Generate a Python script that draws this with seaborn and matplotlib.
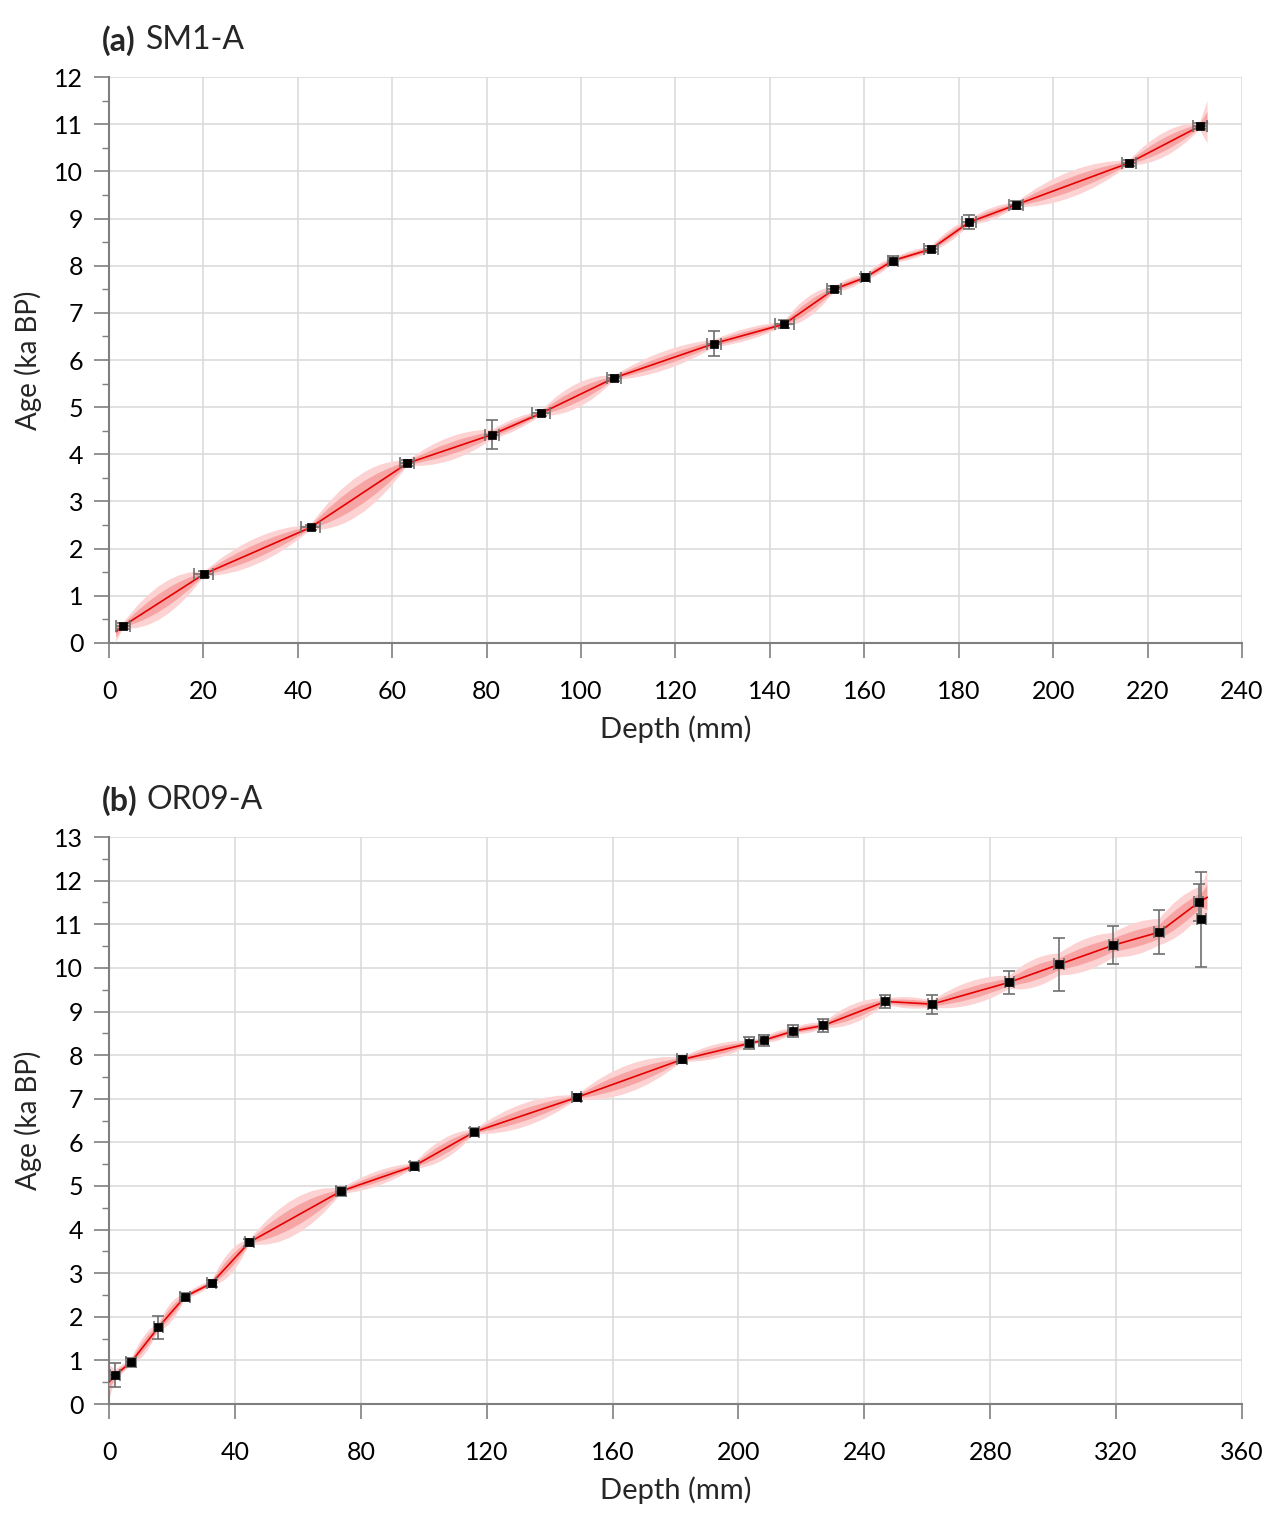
import numpy as np
import matplotlib
matplotlib.use("Agg")
import matplotlib.pyplot as plt
import seaborn as sns
from matplotlib.path import Path
from matplotlib.patches import PathPatch
from matplotlib.ticker import MultipleLocator

# (a) SM1-A dated samples
sm1_depth = [3.0, 20.1, 42.7, 63.2, 81.2, 91.5, 107.0, 128.2, 143.0, 153.6, 160.2, 166.1,
             174.1, 182.2, 192.1, 216.1, 231.1]
sm1_age = [0.36, 1.46, 2.45, 3.81, 4.42, 4.87, 5.62, 6.35, 6.76, 7.50, 7.75, 8.11,
           8.35, 8.92, 9.29, 10.18, 10.96]
sm1_age_err = [0.06, 0.06, 0.06, 0.06, 0.30, 0.06, 0.06, 0.27, 0.08, 0.06, 0.08, 0.10,
               0.06, 0.15, 0.08, 0.06, 0.06]
sm1_depth_err = [1.5, 2.0, 2.0, 1.5, 1.5, 2.0, 1.5, 1.5, 2.0, 1.5, 1.0, 1.0,
                 1.5, 1.5, 1.5, 1.5, 1.5]
# age model ends (depth, age)
sm1_start = (1.5, 0.24)
sm1_end = (232.7, 11.04)
# age model half widths (ka): at the ends, at each sample, between samples
sm1_band95_ends = (0.22, 0.45)
sm1_band68_ends = (0.12, 0.22)
sm1_band95_pt = [0.06, 0.05, 0.05, 0.05, 0.10, 0.05, 0.05, 0.08, 0.05, 0.05, 0.05, 0.05,
                 0.05, 0.06, 0.05, 0.05, 0.07]
sm1_band68_pt = [0.03, 0.03, 0.03, 0.03, 0.06, 0.03, 0.03, 0.05, 0.03, 0.03, 0.03, 0.03,
                 0.03, 0.04, 0.03, 0.03, 0.04]
sm1_band95_mid = [0.36, 0.28, 0.42, 0.25, 0.13, 0.26, 0.20, 0.13, 0.22, 0.11, 0.11, 0.09,
                  0.13, 0.13, 0.28, 0.26]
sm1_band68_mid = [0.19, 0.15, 0.23, 0.13, 0.07, 0.14, 0.10, 0.07, 0.12, 0.06, 0.06, 0.05,
                  0.07, 0.07, 0.15, 0.14]

# (b) OR09-A dated samples
or9_depth = [1.9, 7.0, 15.7, 24.1, 32.6, 44.6, 73.7, 97.0, 116.1, 148.6, 182.1, 203.5,
             208.0, 217.4, 227.0, 246.7, 261.6, 286.1, 301.9, 319.1, 333.7, 346.2, 347.1]
or9_age = [0.66, 0.96, 1.76, 2.46, 2.77, 3.71, 4.88, 5.46, 6.24, 7.03, 7.90, 8.27,
           8.34, 8.55, 8.68, 9.23, 9.17, 9.67, 10.08, 10.52, 10.82, 11.50, 11.11]
or9_age_err = [0.27, 0.10, 0.26, 0.08, 0.08, 0.08, 0.10, 0.10, 0.08, 0.08, 0.08, 0.14,
               0.12, 0.14, 0.15, 0.16, 0.22, 0.26, 0.60, 0.44, 0.51, 0.42, 1.10]
or9_depth_err = [1.5, 1.5, 1.5, 1.5, 1.5, 1.5, 1.5, 1.5, 1.5, 1.5, 1.5, 1.5,
                 1.5, 1.5, 1.5, 1.5, 1.5, 1.5, 1.5, 1.5, 1.5, 1.5, 1.5]
or9_start = (0.1, 0.51)
or9_end = (349.0, 11.62)
or9_band95_ends = (0.40, 0.65)
or9_band68_ends = (0.20, 0.30)
or9_band95_pt = [0.12, 0.06, 0.08, 0.05, 0.05, 0.05, 0.06, 0.06, 0.05, 0.05, 0.05, 0.06,
                 0.06, 0.06, 0.06, 0.07, 0.08, 0.15, 0.25, 0.28, 0.30, 0.35, 0.35]
or9_band68_pt = [0.07, 0.03, 0.05, 0.03, 0.03, 0.03, 0.03, 0.03, 0.03, 0.03, 0.03, 0.03,
                 0.03, 0.03, 0.03, 0.04, 0.05, 0.08, 0.13, 0.15, 0.16, 0.18, 0.18]
or9_band95_mid = [0.10, 0.22, 0.22, 0.09, 0.27, 0.42, 0.17, 0.24, 0.27, 0.32, 0.16, 0.06,
                  0.11, 0.11, 0.22, 0.13, 0.27, 0.32, 0.37, 0.37, 0.42, 0.37]
or9_band68_mid = [0.06, 0.12, 0.12, 0.05, 0.14, 0.23, 0.09, 0.13, 0.14, 0.17, 0.09, 0.03,
                  0.06, 0.06, 0.12, 0.07, 0.14, 0.17, 0.19, 0.19, 0.22, 0.19]

BAND95 = "#fcd2d2"
BAND68 = "#f7a4a4"
LINE = "#e60000"
GRID = "#d9d9d9"
AXIS = "#7f7f7f"


def band_patch(depth, age, start, end, ends, pt, mid, color, z):
    # smooth lens-shaped envelope: passes through sample half widths,
    # bulges to the read half width between samples
    nodes_x = [start[0]] + list(depth) + [end[0]]
    nodes_y = [start[1]] + list(age) + [end[1]]
    nodes_w = [ends[0]] + list(pt) + [ends[1]]
    mids = [None] + list(mid) + [None]
    upper, lower = [], []
    for i in range(len(nodes_x) - 1):
        x0, x1 = nodes_x[i], nodes_x[i + 1]
        y0, y1 = nodes_y[i], nodes_y[i + 1]
        w0, w1 = nodes_w[i], nodes_w[i + 1]
        wm = mids[i] if mids[i] is not None else (w0 + w1) / 2
        cx, cy = (x0 + x1) / 2, (y0 + y1) / 2
        cw = 2 * wm - (w0 + w1) / 2
        if i == 0:
            upper.append((x0, y0 + w0))
            lower.append((x0, y0 - w0))
        upper += [(cx, cy + cw), (x1, y1 + w1)]
        lower += [(cx, cy - cw), (x1, y1 - w1)]
    verts = upper + lower[::-1] + [upper[0]]
    n_up = len(upper)
    codes = [Path.MOVETO] + [Path.CURVE3] * (n_up - 1) + [Path.LINETO] \
        + [Path.CURVE3] * (len(lower) - 1) + [Path.CLOSEPOLY]
    return PathPatch(Path(verts, codes), facecolor=color, edgecolor="none", zorder=z)


def draw_panel(ax, depth, age, age_err, depth_err, start, end,
               b95_ends, b95_pt, b95_mid, b68_ends, b68_pt, b68_mid,
               xmax, xmajor, ymax, title_bold, title, title_gap):
    d, a = list(depth), list(age)
    p95, p68 = list(b95_pt), list(b68_pt)
    # the last two OR09-A samples overlap: the model runs through the upper one
    if len(d) == 23:
        d, a, p95, p68 = d[:-1], a[:-1], p95[:-1], p68[:-1]
    ax.add_patch(band_patch(d, a, start, end, b95_ends, p95, b95_mid, BAND95, 2))
    ax.add_patch(band_patch(d, a, start, end, b68_ends, p68, b68_mid, BAND68, 3))
    lx = [start[0]] + d + [end[0]]
    ly = [start[1]] + a + [end[1]]
    sns.lineplot(x=lx, y=ly, sort=False, color=LINE, lw=1.2, ax=ax, zorder=4)
    ax.errorbar(depth, age, yerr=age_err, xerr=depth_err, fmt="none",
                ecolor="#707070", elinewidth=1.2, capsize=4.5, capthick=1.2, zorder=5)
    sns.scatterplot(x=depth, y=age, marker="s", s=40, color="black",
                    edgecolor="black", linewidth=0.5, ax=ax, zorder=6)

    ax.set_xlim(0, xmax)
    ax.set_ylim(0, ymax)
    ax.xaxis.set_major_locator(MultipleLocator(xmajor))
    ax.xaxis.set_minor_locator(MultipleLocator(xmajor / 2))
    ax.yaxis.set_major_locator(MultipleLocator(1))
    ax.yaxis.set_minor_locator(MultipleLocator(0.5))
    ax.grid(True, which="major", color=GRID, lw=1.1)
    ax.grid(False, which="minor")
    for s in ["top", "right"]:
        ax.spines[s].set_visible(False)
    for s in ["left", "bottom"]:
        ax.spines[s].set_color(AXIS)
        ax.spines[s].set_linewidth(1.5)
    ax.tick_params(which="major", direction="out", length=10.5, width=1.2,
                   color=AXIS, labelsize=18, labelcolor="black")
    ax.tick_params(which="minor", direction="out", length=5, width=1.0, color=AXIS)
    ax.tick_params(axis="y", which="both", left=True, pad=8)
    ax.tick_params(axis="x", which="major", bottom=True, pad=16)
    ax.set_xlabel("Depth (mm)", fontsize=21, labelpad=9)
    ax.set_ylabel("Age (ka BP)", fontsize=20, labelpad=9)
    ax.text(-0.006, 1.065, title_bold, transform=ax.transAxes, fontsize=23,
            fontweight="bold", ha="left", va="center")
    ax.text(title_gap, 1.065, title, transform=ax.transAxes, fontsize=23,
            ha="left", va="center")


sns.set_theme(style="white")
plt.rcParams["font.family"] = ["Lato", "DejaVu Sans"]

fig = plt.figure(figsize=(12.78, 15.2), dpi=100)
ax_a = fig.add_axes([0.0853, 0.5770, 0.8865, 0.3723])
ax_b = fig.add_axes([0.0853, 0.0763, 0.8865, 0.3730])

draw_panel(ax_a, sm1_depth, sm1_age, sm1_age_err, sm1_depth_err, sm1_start, sm1_end,
           sm1_band95_ends, sm1_band95_pt, sm1_band95_mid,
           sm1_band68_ends, sm1_band68_pt, sm1_band68_mid,
           240, 20, 12, "(a)", "SM1-A", 0.033)
draw_panel(ax_b, or9_depth, or9_age, or9_age_err, or9_depth_err, or9_start, or9_end,
           or9_band95_ends, or9_band95_pt, or9_band95_mid,
           or9_band68_ends, or9_band68_pt, or9_band68_mid,
           360, 40, 13, "(b)", "OR09-A", 0.033)

fig.savefig("out.png", dpi=100)
